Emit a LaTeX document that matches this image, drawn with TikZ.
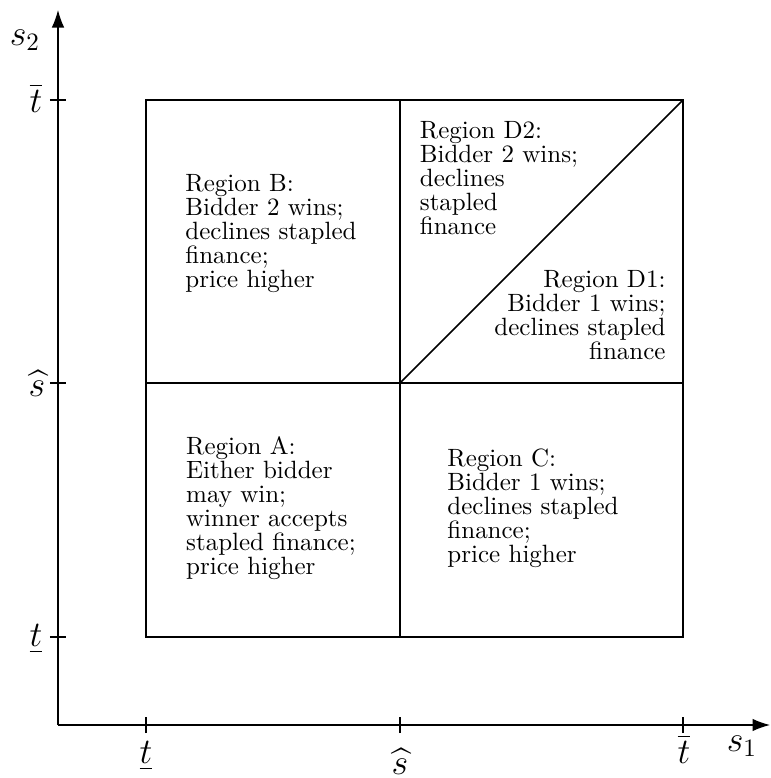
\documentclass[tikz,border=0pt]{standalone}
\usepackage{amsmath}
\usetikzlibrary{arrows.meta}

\begin{document}
\begin{tikzpicture}[
    x=40pt, y=40pt,
    axis/.style={-{Latex[length=7pt,width=5pt]}, line width=0.45pt},
    edge/.style={line width=0.6pt},
    tick/.style={line width=0.8pt},
    region/.style={font=\fontsize{10}{9.6}\selectfont, inner sep=0pt},
    lab/.style={font=\Large, inner sep=0pt}
]
\useasboundingbox (-0.58,-0.53) rectangle (7.13,7.25);

% Axes
\coordinate (O) at (0,0);
\coordinate (xend) at (7.12,0);
\coordinate (yend) at (0,7.15);
\draw[axis] (O) -- (xend);
\draw[axis] (O) -- (yend);

% Ticks
\foreach \v in {0.88,3.42,6.25} {
    \draw[tick] (\v,-0.08) -- (\v,0.08);
    \draw[tick] (-0.08,\v) -- (0.08,\v);
}

% Square
\coordinate (LL) at (0.88,0.88);
\coordinate (LR) at (6.25,0.88);
\coordinate (UR) at (6.25,6.25);
\coordinate (UL) at (0.88,6.25);
\coordinate (M) at (3.42,3.42);
\coordinate (Mb) at (3.42,0.88);
\coordinate (Mt) at (3.42,6.25);
\coordinate (Ml) at (0.88,3.42);
\coordinate (Mr) at (6.25,3.42);
\draw[edge] (LL) -- (LR) -- (UR) -- (UL) -- cycle;
\draw[edge] (Mb) -- (Mt);
\draw[edge] (Ml) -- (Mr);
\draw[edge] (M) -- (UR);

% Axis labels
\node[lab] (s1) at (6.84,-0.21) {$s_1$};
\node[lab] (s2) at (-0.33,6.85) {$s_2$};
\node[lab] (ylow) at (-0.22,0.86) {$\underline{t}$};
\node[lab] (ymid) at (-0.21,3.42) {$\widehat{s}$};
\node[lab] (yhigh) at (-0.22,6.27) {$\overline{t}$};
\node[lab] (xlow) at (0.88,-0.31) {$\underline{t}$};
\node[lab] (xmid) at (3.42,-0.36) {$\widehat{s}$};
\node[lab] (xhigh) at (6.26,-0.24) {$\overline{t}$};

% Regions
\node[region, align=left] (regA) at (2.13,2.17) {Region A:\\Either bidder\\may win;\\winner accepts\\stapled finance;\\price higher};
\node[region, align=left] (regB) at (2.13,4.91) {Region B:\\Bidder 2 wins;\\declines stapled\\finance;\\price higher};
\node[region, align=left] (regC) at (4.75,2.17) {Region C:\\Bidder 1 wins;\\declines stapled\\finance;\\price higher};
\node[region, align=left] (regD2) at (4.41,5.47) {Region D2:\\Bidder 2 wins;\\declines\\stapled\\finance};
\node[region, align=right] (regD1) at (5.22,4.10) {Region D1:\\Bidder 1 wins;\\declines stapled\\finance};

\end{tikzpicture}
\end{document}
